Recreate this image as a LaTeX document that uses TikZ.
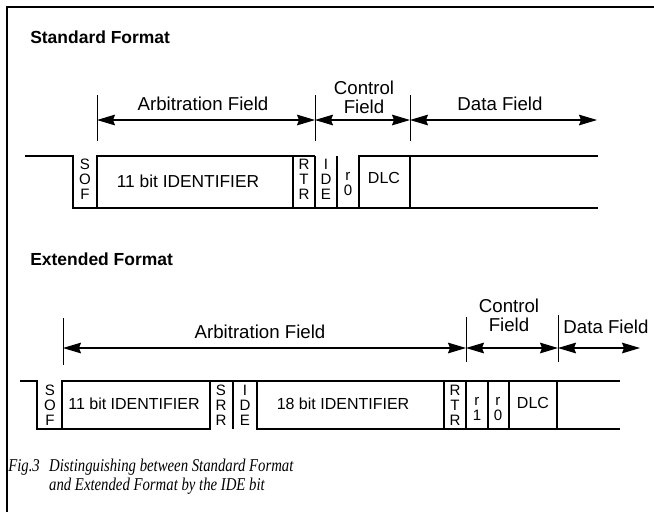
\documentclass[tikz,border=0pt]{standalone}
\usepackage{fontspec}
\setmainfont{Liberation Sans}
\newfontfamily\capfont[FakeStretch=0.82]{Liberation Serif}
\usetikzlibrary{arrows.meta}

\begin{document}
\begin{tikzpicture}[x=0.75pt,y=-0.75pt,
  frame/.style={line width=0.9pt},
  wave/.style={line width=1.1pt},
  tick/.style={line width=0.75pt},
  span/.style={line width=0.9pt,
    {Stealth[length=13.5pt,width=8pt,inset=1.5pt]}-{Stealth[length=13.5pt,width=8pt,inset=1.5pt]}},
  head/.style={font=\fontsize{13.1}{15}\selectfont\bfseries, anchor=base west, inner sep=0pt},
  lbl/.style={font=\fontsize{14}{14.3}\selectfont, inner sep=0pt, align=center},
  cell/.style={font=\fontsize{13}{15}\selectfont, inner sep=0pt},
  cellx/.style={font=\fontsize{12}{14}\selectfont, inner sep=0pt},
  bits/.style={font=\fontsize{11.3}{11.25}\selectfont, inner sep=0pt, align=center},
  ]
\useasboundingbox (0,0) rectangle (654,512);

% outer frame: top and left rules
\draw[frame] (654,7) -- (7,7) -- (7,512);

% ---------------- Standard format ----------------
\node[head] (stdhead) at (30,43) {Standard Format};

% field extents
\coordinate (sA) at (97,120);
\coordinate (sB) at (315,120);
\coordinate (sC) at (410,120);
\coordinate (sD) at (597,120);
\foreach \x in {97,315,410} \draw[tick] (\x,95) -- (\x,141);
\draw[span] (sA) -- (sB);
\draw[span] (sB) -- (sC);
\draw[span] (sC) -- (sD);
\node[lbl, anchor=base] (sarb) at (203,110) {Arbitration Field};
\node[lbl] (sctl) at (364,97) {Control\\Field};
\node[lbl, anchor=base] (sdat) at (500,110) {Data Field};

% bit stream
\draw[wave] (25,156) -- (73,156) -- (73,208) -- (598,208);
\draw[wave] (97,208) -- (97,156) -- (315,156);
\draw[wave] (359,208) -- (359,156) -- (598,156);
\foreach \x in {293,315,337,410} \draw[wave] (\x,156) -- (\x,208);

\node[bits] (ssof) at (85,179) {S\\O\\F};
\node[cell] (sid) at (188,181) {11 bit IDENTIFIER};
\node[bits] (srtr) at (304,179) {R\\T\\R};
\node[bits] (side) at (326,179) {I\\D\\E};
\node[bits] (sr0) at (348,184) {r\\0};
\node[cellx] (sdlc) at (384,178) {DLC};

% ---------------- Extended format ----------------
\node[head] (exthead) at (30,265) {Extended Format};

\coordinate (eA) at (63,348);
\coordinate (eB) at (466,348);
\coordinate (eC) at (558,348);
\coordinate (eD) at (640,348);
\draw[tick] (63,318) -- (63,365);
\draw[tick] (466,317) -- (466,362);
\draw[tick] (558,315) -- (558,362);
\draw[span] (eA) -- (eB);
\draw[span] (eB) -- (eC);
\draw[span] (eC) -- (eD);
\node[lbl, anchor=base] (earb) at (260,338) {Arbitration Field};
\node[lbl] (ectl) at (509,315) {Control\\Field};
\node[lbl, anchor=base] (edat) at (606,333) {Data Field};

% bit stream
\draw[wave] (20,381) -- (37,381) -- (37,429) -- (210,429) -- (210,381);
\draw[wave] (62,429) -- (62,381) -- (620,381);
\draw[wave] (257,381) -- (257,429) -- (620,429);
\foreach \x in {233,444,466,488,509,557} \draw[wave] (\x,381) -- (\x,429);

\node[bits] (esof) at (50,405) {S\\O\\F};
\node[cellx] (eid) at (134,404) {11 bit IDENTIFIER};
\node[bits] (esrr) at (221,405) {S\\R\\R};
\node[bits] (eide) at (245,405) {I\\D\\E};
\node[cellx] (eid2) at (343,404) {18 bit IDENTIFIER};
\node[bits] (ertr) at (455,405) {R\\T\\R};
\node[bits] (er1) at (477,409) {r\\1};
\node[bits] (er0) at (498,409) {r\\0};
\node[cellx] (edlc) at (533,403) {DLC};

% ---------------- caption ----------------
\node[anchor=base west, inner sep=0pt, font=\capfont\itshape\fontsize{13.5}{14.25}\selectfont] (cap) at (8,471)
  {\begin{tabular}[t]{@{}l@{\hspace{7pt}}l@{}}
   Fig.3 & Distinguishing between Standard Format\\
         & and Extended Format by the IDE bit
   \end{tabular}};
\end{tikzpicture}
\end{document}
